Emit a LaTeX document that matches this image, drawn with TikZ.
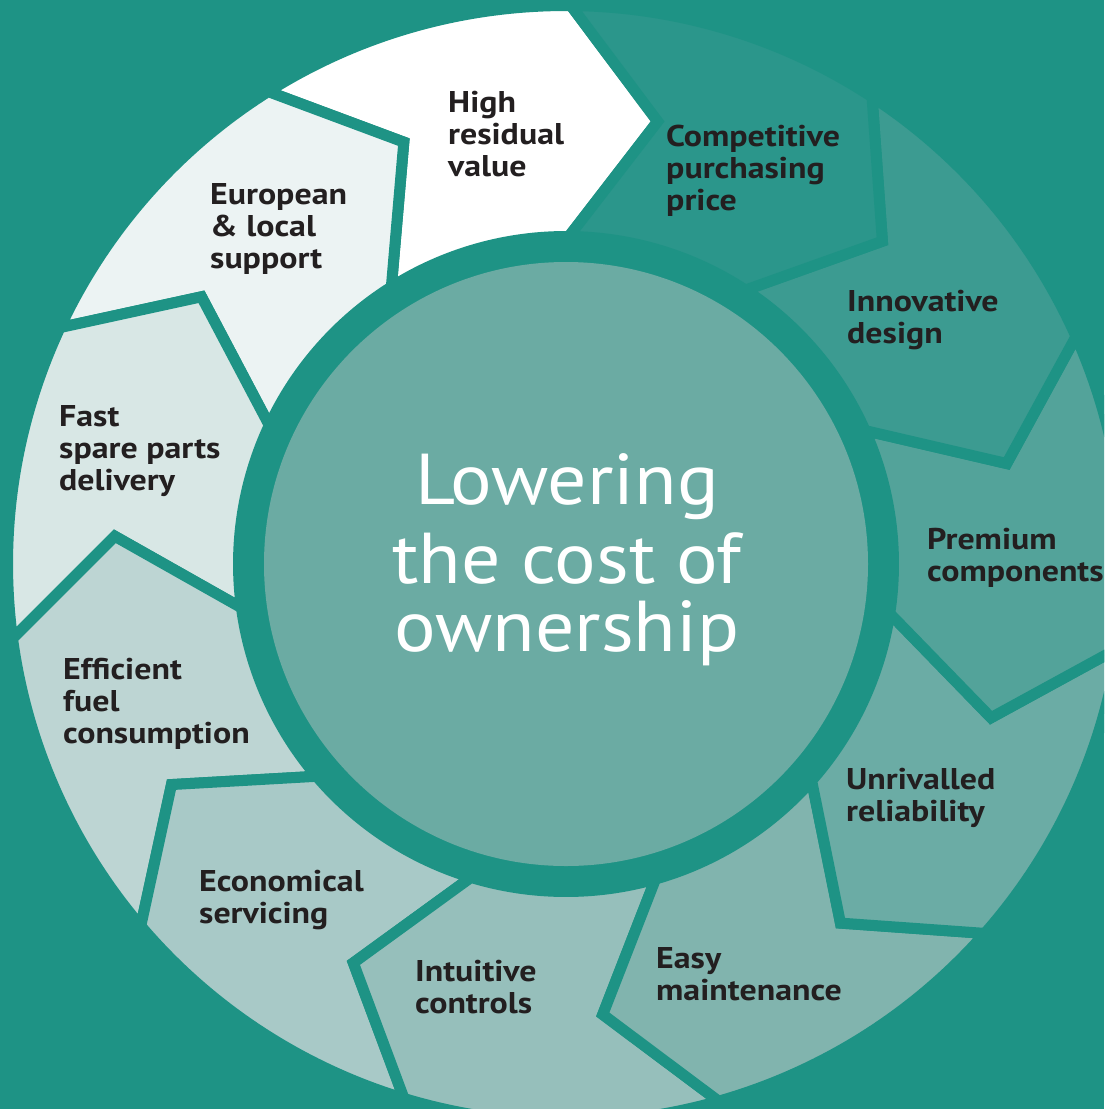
\documentclass[tikz,border=0pt]{standalone}
\usepackage{fontspec}
\setmainfont{PT Sans}
\usetikzlibrary{calc}
\definecolor{bg}{HTML}{1E9385}
\definecolor{disc}{HTML}{6BABA3}
\definecolor{ink}{HTML}{231F20}
\definecolor{s0}{HTML}{FFFFFF}
\definecolor{s1}{HTML}{ECF3F3}
\definecolor{s2}{HTML}{D8E7E5}
\definecolor{s3}{HTML}{BDD5D3}
\definecolor{s4}{HTML}{A8C9C7}
\definecolor{s5}{HTML}{96BFBB}
\definecolor{s6}{HTML}{81B4AE}
\definecolor{s7}{HTML}{6BACA5}
\definecolor{s8}{HTML}{53A39A}
\definecolor{s9}{HTML}{3C9B91}
\definecolor{s10}{HTML}{2B968B}
\begin{document}
\begin{tikzpicture}[x=1pt,y=1pt,
  seg/.style={draw=bg, line width=11pt, line join=miter, miter limit=10},
  lbl/.style={anchor=north west, inner sep=0pt, align=left, text=ink,
    font=\fontsize{30}{32}\selectfont\bfseries\addfontfeatures{FakeStretch=1.13}},
  title/.style={anchor=north, inner sep=0pt, align=center, text=white,
    font=\fontsize{72}{79}\selectfont\addfontfeatures{FakeStretch=1.08}}]
\useasboundingbox (0,0) rectangle (1104,-1109);
\fill[bg] (0,0) rectangle (1104,-1109);
\clip (0,0) rectangle (1104,-1109);
\coordinate (C) at (566,-564);
\foreach \k/\col in {0/s0,1/s1,2/s2,3/s3,4/s4,5/s5,6/s6,7/s7,8/s8,9/s9,10/s10} {
  \pgfmathsetmacro\a{89.5+32.7273*\k}
  \pgfmathsetmacro\b{\a+32.7273}
  \pgfmathsetmacro\at{\a-11.2}
  \pgfmathsetmacro\bt{\b-11.2}
  \path[seg, fill=\col] ($(C)+(\a:327.5pt)$) -- ($(C)+(\at:452pt)$)
    -- ($(C)+(\a:558.5pt)$) arc[start angle=\a, end angle=\b, radius=558.5pt]
    -- ($(C)+(\bt:452pt)$) -- ($(C)+(\b:327.5pt)$)
    arc[start angle=\b, end angle=\a, radius=327.5pt] -- cycle;
}
\fill[disc] (C) circle[radius=302pt];
\node[title] (center) at (567,-453) {Lowering\\the cost of\\[-11pt]ownership};
\node[lbl] (high) at (448,-91) {High\\residual\\value};
\node[lbl] (comp) at (666,-125) {Competitive\\purchasing\\price};
\node[lbl] (innov) at (847,-290) {Innovative\\design};
\node[lbl] (prem) at (927,-528) {Premium\\components};
\node[lbl] (unriv) at (846,-768) {Unrivalled\\reliability};
\node[lbl] (easy) at (656,-947) {Easy\\maintenance};
\node[lbl] (intu) at (415,-960) {Intuitive\\controls};
\node[lbl] (econ) at (199,-870) {Economical\\servicing};
\node[lbl] (effi) at (63,-658) {Efficient\\fuel\\consumption};
\node[lbl] (fast) at (59,-405) {Fast\\spare parts\\delivery};
\node[lbl] (euro) at (210,-183) {European\\\& local\\support};
\end{tikzpicture}
\end{document}
